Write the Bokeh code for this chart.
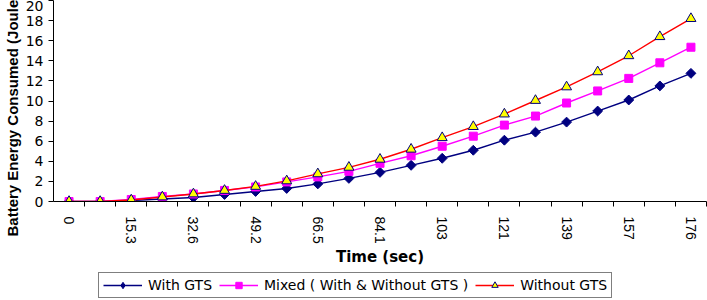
import math
from bokeh.plotting import figure
from bokeh.layouts import column
from bokeh.models import (FixedTicker, Legend, LegendItem, Range1d, Title)
from bokeh.embed import file_html
from bokeh.resources import INLINE

# ---- data ----
time_labels = ["0", "", "15.3", "", "32.6", "", "49.2", "", "66.5", "", "84.1",
               "", "103", "", "121", "", "139", "", "157", "", "176"]
with_gts = [0, 0, 0.1, 0.25, 0.4, 0.7, 1.0, 1.3, 1.75, 2.3, 2.9,
            3.6, 4.3, 5.1, 6.1, 6.9, 7.9, 9.0, 10.1, 11.5, 12.75]
mixed = [0, 0, 0.2, 0.5, 0.75, 1.1, 1.45, 1.95, 2.45, 3.0, 3.8,
         4.55, 5.5, 6.5, 7.6, 8.5, 9.8, 11.0, 12.25, 13.8, 15.35]
without_gts = [0, 0, 0.15, 0.45, 0.75, 1.1, 1.5, 2.05, 2.75, 3.4, 4.2,
               5.2, 6.35, 7.45, 8.7, 10.05, 11.4, 12.9, 14.5, 16.4, 18.2]
y_ticks = list(range(0, 21, 2))
series_names = ["With GTS", "Mixed ( With & Without GTS )", "Without GTS"]
colors = ["#000080", "#FF00FF", "#FF0000"]

n = len(time_labels)
xs = list(range(n))


def add_series(fig, legend_strip=False):
    r = []
    r.append(fig.line(xs, with_gts, line_color=colors[0], line_width=1.4))
    if legend_strip:
        r.append(fig.scatter(xs, with_gts, marker="diamond", size=11,
                             fill_color=colors[0], line_color=colors[0]))
    else:
        r.append(fig.scatter(xs, with_gts, marker="square", angle=math.pi / 4, size=7,
                             fill_color=colors[0], line_color=colors[0]))
    r.append(fig.line(xs, mixed, line_color=colors[1], line_width=1.4))
    r.append(fig.scatter(xs, mixed, marker="square", size=8,
                         fill_color=colors[1], line_color=colors[1]))
    r.append(fig.line(xs, without_gts, line_color=colors[2], line_width=1.4))
    r.append(fig.scatter(xs, without_gts, marker="triangle", size=10,
                         fill_color="#FFFF00", line_color=colors[0], line_width=1))
    return r


p = figure(width=707, height=268, output_backend="svg", toolbar_location=None,
           x_range=Range1d(-0.5, n - 0.5), y_range=Range1d(0, 20))
p.min_border_left = 53
p.min_border_right = 1
p.min_border_top = 0
p.min_border_bottom = 0
p.outline_line_color = None
p.xgrid.visible = False
p.ygrid.visible = False
p.background_fill_color = "white"
p.border_fill_color = "white"

# x axis
xa = p.xaxis[0]
xa.ticker = FixedTicker(ticks=[i for i in xs if time_labels[i] != ""],
                        minor_ticks=[i + 0.5 for i in xs])
xa.major_label_overrides = {i: time_labels[i] for i in xs if time_labels[i] != ""}
xa.major_tick_out = 0
xa.major_tick_in = 0
xa.minor_tick_out = 5
xa.minor_tick_in = 0
xa.minor_tick_line_color = "black"
xa.axis_line_color = "black"
xa.major_label_orientation = -math.pi / 2
xa.major_label_standoff = 10
xa.major_label_text_font = "Liberation Sans"
xa.major_label_text_font_size = "14px"
xa.major_label_text_color = "black"
xa.axis_label = "Time (sec)"
xa.axis_label_text_font = "DejaVu Sans"
xa.axis_label_text_font_style = "bold"
xa.axis_label_text_font_size = "15px"
xa.axis_label_text_color = "black"
xa.axis_label_standoff = 1

# y axis
ya = p.yaxis[0]
ya.ticker = FixedTicker(ticks=y_ticks)
ya.major_tick_out = 5
ya.major_tick_in = 0
ya.minor_tick_out = 0
ya.minor_tick_in = 0
ya.major_tick_line_color = "black"
ya.axis_line_color = "black"
ya.major_label_standoff = 5
ya.major_label_text_font = "DejaVu Sans"
ya.major_label_text_font_size = "14px"
ya.major_label_text_color = "black"

ytitle = Title(text="Battery Energy Consumed (Joules)", align="left", offset=-35,
               vertical_align="top",
               text_font="Liberation Sans", text_font_style="bold",
               text_font_size="15px", text_color="black", standoff=0)
p.add_layout(ytitle, "left")

add_series(p)

# legend strip (separate figure below the chart; its data lies off-range)
q = figure(width=707, height=32, output_backend="svg", toolbar_location=None,
           x_range=Range1d(-200, -199), y_range=Range1d(-200, -199),
           x_axis_type=None, y_axis_type=None, min_border=0)
q.outline_line_color = None
q.background_fill_color = "white"
q.border_fill_color = "white"
qr = add_series(q, legend_strip=True)

legend = Legend(items=[LegendItem(label=series_names[0], renderers=[qr[0], qr[1]]),
                       LegendItem(label=series_names[1], renderers=[qr[2], qr[3]]),
                       LegendItem(label=series_names[2], renderers=[qr[4], qr[5]])],
                orientation="horizontal", location=(45, 2),
                border_line_color="black", border_line_width=1,
                padding=4, spacing=7, label_standoff=6,
                glyph_width=39, glyph_height=16, label_height=16,
                label_text_font="DejaVu Sans", label_text_font_size="14px",
                label_text_color="black", margin=0)
q.add_layout(legend)

layout = column(p, q, spacing=0)
open("out.html", "w").write(file_html(layout, INLINE))
